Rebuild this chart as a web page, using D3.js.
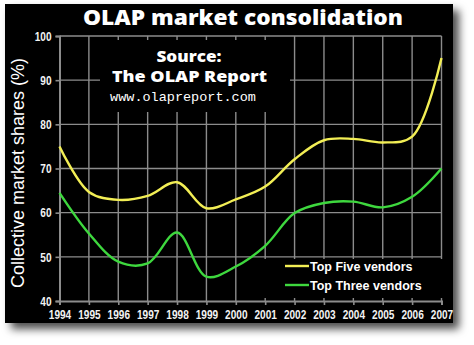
<!DOCTYPE html>
<html>
<head>
<meta charset="utf-8">
<script src="https://cdn.jsdelivr.net/npm/d3@7"></script>
<style>
  html, body { margin: 0; padding: 0; background: #fff; }
  svg { display: block; }
</style>
</head>
<body>
<svg id="chart" width="474" height="345"></svg>
<script>
// Years on the x axis
const years = [1994, 1995, 1996, 1997, 1998, 1999, 2000, 2001, 2002, 2003, 2004, 2005, 2006, 2007];
// Collective market share (%) of the five largest vendors
const topFive = [75, 64.7, 62.9, 63.8, 66.9, 61.0, 63.0, 65.9, 72.1, 76.4, 76.7, 75.9, 77.2, 95.0];
// Collective market share (%) of the three largest vendors
const topThree = [64.5, 55.3, 48.9, 48.5, 55.5, 45.5, 47.8, 52.5, 59.9, 62.2, 62.5, 61.2, 63.6, 70.0];
// Y axis tick values
const yTicks = [40, 50, 60, 70, 80, 90, 100];
const seriesNames = ["Top Five vendors", "Top Three vendors"];

const svg = d3.select("#chart");

// Drop shadow for the black panel
const defs = svg.append("defs");
const f = defs.append("filter").attr("id", "shadow")
  .attr("x", "-10%").attr("y", "-10%").attr("width", "130%").attr("height", "130%");
f.append("feDropShadow").attr("dx", 6).attr("dy", 6).attr("stdDeviation", 4)
  .attr("flood-color", "#000").attr("flood-opacity", 0.7);

svg.append("rect").attr("x", 5).attr("y", 4).attr("width", 448).attr("height", 319)
  .attr("fill", "#000").attr("filter", "url(#shadow)");

const x = d3.scaleLinear().domain([1994, 2007]).range([59.5, 441.5]);
const y = d3.scaleLinear().domain([40, 100]).range([301, 36]);

const gridColor = "#8c8c8c";
const plot = svg.append("g");

// Horizontal grid lines
plot.append("g").selectAll("line").data(yTicks.slice(1)).join("line")
  .attr("x1", x(1994)).attr("x2", x(2007))
  .attr("y1", d => y(d)).attr("y2", d => y(d))
  .attr("stroke", gridColor).attr("stroke-width", 1.4);

// Vertical grid lines
plot.append("g").selectAll("line").data(years.slice(1)).join("line")
  .attr("x1", d => x(d)).attr("x2", d => x(d))
  .attr("y1", y(40)).attr("y2", y(100))
  .attr("stroke", gridColor).attr("stroke-width", 1.4);

// Axes
const xAxis = d3.axisBottom(x).tickValues(years).tickFormat(d3.format("d")).tickSize(4).tickPadding(5);
const yAxis = d3.axisLeft(y).tickValues(yTicks).tickSize(4).tickPadding(4);

const gx = svg.append("g").attr("transform", `translate(0,${y(40)})`).call(xAxis);
const gy = svg.append("g").attr("transform", `translate(${x(1994)},0)`).call(yAxis);
[gx, gy].forEach(g => {
  g.select(".domain").attr("stroke", gridColor).attr("stroke-width", 2);
  g.selectAll(".tick line").attr("stroke", gridColor).attr("stroke-width", 1.6);
  // condensed bold numerals
  g.selectAll("text").attr("fill", "#f2f2f2")
    .attr("textLength", function () { return this.textContent.length * 5.6; })
    .attr("lengthAdjust", "spacingAndGlyphs")
    .style("font-family", "'Liberation Sans', Arial, sans-serif")
    .style("font-weight", "bold").style("font-size", "13px");
});

// Source caption box (masks the grid behind it)
svg.append("rect").attr("x", 100).attr("y", 40).attr("width", 190).attr("height", 72).attr("fill", "#000");
// Legend box
svg.append("rect").attr("x", 250).attr("y", 259).attr("width", 196).attr("height", 39).attr("fill", "#000");

// Series lines
const line = d3.line().x((d, i) => x(years[i])).y(d => y(d)).curve(d3.curveCatmullRom.alpha(0.5));
const colors = ["#f2ee55", "#3ed83e"];
[topFive, topThree].forEach((s, k) => {
  svg.append("path").datum(s).attr("d", line)
    .attr("fill", "none").attr("stroke", colors[k]).attr("stroke-width", 2.4)
    .attr("stroke-linejoin", "round");
});

// Legend entries
const leg = svg.append("g");
seriesNames.forEach((name, k) => {
  const ly = 266 + k * 19;
  leg.append("line").attr("x1", 285).attr("x2", 309).attr("y1", ly).attr("y2", ly)
    .attr("stroke", colors[k]).attr("stroke-width", 2.4);
  leg.append("text").attr("x", 310).attr("y", ly + 4.5).text(name)
    .attr("fill", "#fff").style("font-family", "'Liberation Sans', Arial, sans-serif")
    .style("font-weight", "bold").style("font-size", "12.5px");
});

// Title
svg.append("text").attr("x", 243).attr("y", 25).attr("text-anchor", "middle")
  .text("OLAP market consolidation")
  .attr("textLength", 320).attr("lengthAdjust", "spacingAndGlyphs")
  .attr("fill", "#fff").style("font-family", "'Open Sans', sans-serif")
  .style("font-weight", "800").style("font-size", "21.5px");

// Source caption
const cap = svg.append("g").attr("fill", "#fff").attr("text-anchor", "middle");
cap.append("text").attr("x", 189).attr("y", 62).text("Source:")
  .attr("textLength", 65).attr("lengthAdjust", "spacingAndGlyphs")
  .style("font-family", "'Open Sans', sans-serif").style("font-weight", "800").style("font-size", "15.5px");
cap.append("text").attr("x", 189.5).attr("y", 82).text("The OLAP Report")
  .attr("textLength", 155).attr("lengthAdjust", "spacingAndGlyphs")
  .style("font-family", "'Open Sans', sans-serif").style("font-weight", "800").style("font-size", "15.5px");
cap.append("text").attr("x", 183).attr("y", 101).text("www.olapreport.com")
  .style("font-family", "'Liberation Mono', 'DejaVu Sans Mono', monospace").style("font-size", "13.5px");

// Y axis title
svg.append("text").attr("transform", "translate(24,173) rotate(-90)").attr("text-anchor", "middle")
  .text("Collective market shares (%)")
  .attr("fill", "#fff").style("font-family", "'Liberation Sans', Arial, sans-serif").style("font-size", "18px");
</script>
</body>
</html>
